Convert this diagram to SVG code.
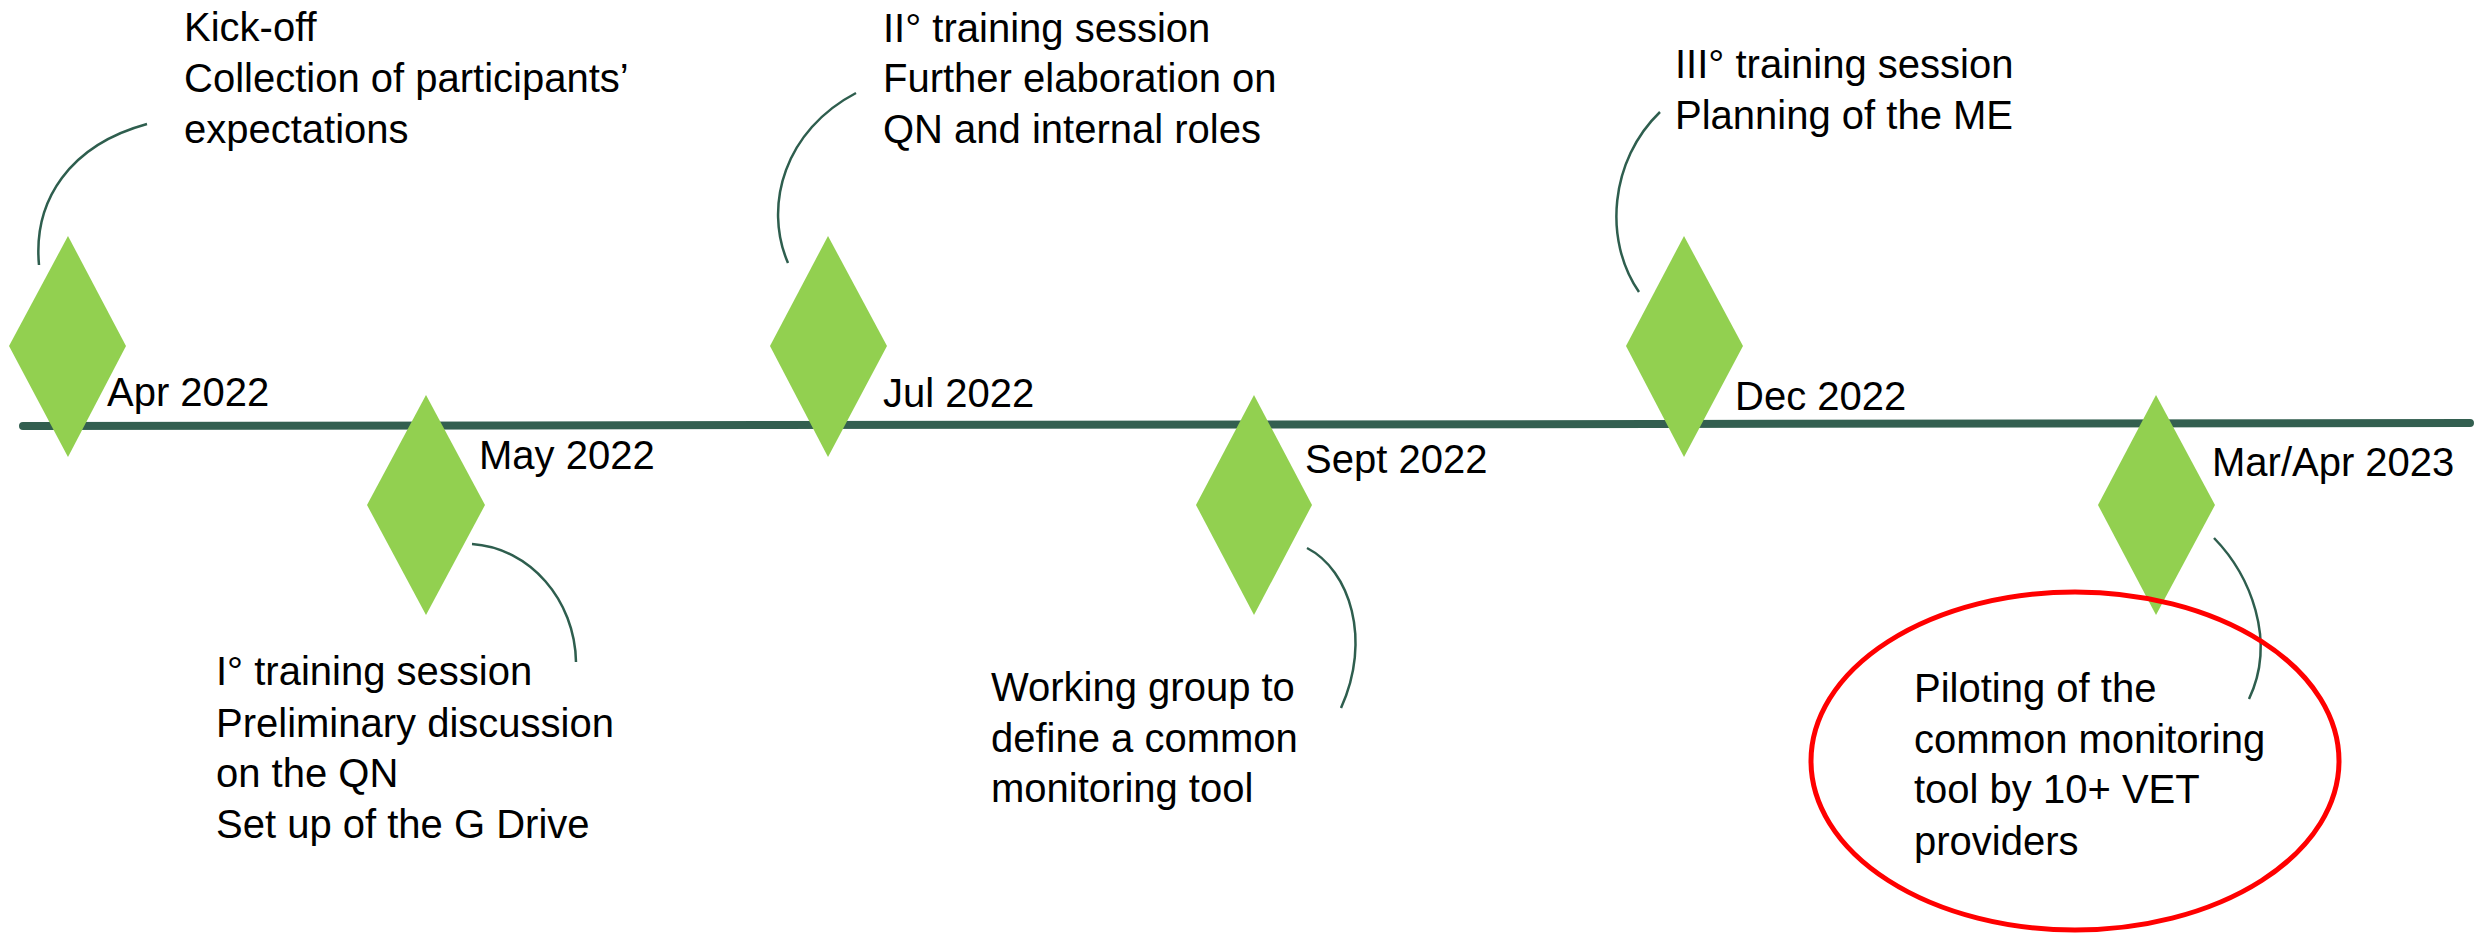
<svg xmlns="http://www.w3.org/2000/svg" width="2481" height="933" viewBox="0 0 2481 933">
<style>
text{font-family:"Liberation Sans",Arial,sans-serif;font-size:40px;fill:#000}
.dm{fill:#92D050}
.cn{fill:none;stroke:#2E5E4E;stroke-width:2.5}
.tl{fill:none;stroke:#335F50;stroke-width:8;stroke-linecap:round}
</style>
<rect width="2481" height="933" fill="#fff"/>
<g id="timeline"><path class="tl" d="M23,426 L2470,423"/></g>
<g id="connectors">
<path class="cn" d="M39,265 C33,200 70,145 147,124"/>
<path class="cn" d="M472,544 C530,548 575,600 576,662"/>
<path class="cn" d="M788,263 C763,205 785,130 856,93"/>
<path class="cn" d="M1307,548 C1350,570 1372,640 1341,708"/>
<path class="cn" d="M1639,292 C1603,240 1610,160 1660,112"/>
<path class="cn" d="M2214,538 C2250,575 2277,640 2249,699"/>
</g>
<g id="n-apr">
<polygon class="dm" points="68,236 126,346 68,457 9,346"/>
<text x="107" y="406">Apr 2022</text>
<text x="184" y="41">Kick-off</text>
<text x="184" y="92">Collection of participants’</text>
<text x="184" y="143">expectations</text>
</g>
<g id="n-may">
<polygon class="dm" points="426,395 485,505 426,615 367,505"/>
<text x="479" y="469">May 2022</text>
<text x="216" y="685">I° training session</text>
<text x="216" y="737">Preliminary discussion</text>
<text x="216" y="787">on the QN</text>
<text x="216" y="838">Set up of the G Drive</text>
</g>
<g id="n-jul">
<polygon class="dm" points="828,236 887,346 828,457 770,346"/>
<text x="883" y="407">Jul 2022</text>
<text x="883" y="42">II° training session</text>
<text x="883" y="92">Further elaboration on</text>
<text x="883" y="143">QN and internal roles</text>
</g>
<g id="n-sept">
<polygon class="dm" points="1254,395 1312,505 1254,615 1196,505"/>
<text x="1305" y="473">Sept 2022</text>
<text x="991" y="701">Working group to</text>
<text x="991" y="752">define a common</text>
<text x="991" y="802">monitoring tool</text>
</g>
<g id="n-dec">
<polygon class="dm" points="1684,236 1743,346 1684,457 1626,346"/>
<text x="1735" y="410">Dec 2022</text>
<text x="1675" y="78">III° training session</text>
<text x="1675" y="129">Planning of the ME</text>
</g>
<g id="n-mar">
<polygon class="dm" points="2156,395 2215,505 2156,615 2098,505"/>
<text x="2212" y="476">Mar/Apr 2023</text>
<text x="1914" y="702">Piloting of the</text>
<text x="1914" y="753">common monitoring</text>
<text x="1914" y="803">tool by 10+ VET</text>
<text x="1914" y="855">providers</text>
</g>
<g id="highlight">
<ellipse cx="2075" cy="761" rx="264" ry="169" fill="none" stroke="#FF0000" stroke-width="5"/>
</g>
</svg>
